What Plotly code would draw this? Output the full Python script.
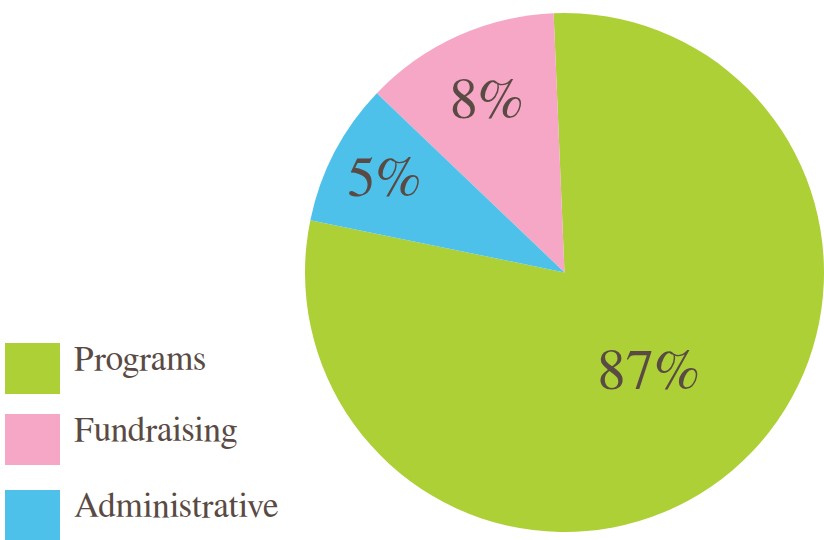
import plotly.graph_objects as go

labels = ["Programs", "Fundraising", "Administrative"]
values = [78.9, 12.2, 8.9]            # slice sizes as drawn
value_labels = ["87%", "8%", "5%"]    # printed labels
colors = ["#acd035", "#f5a7c5", "#4dc1ea"]

W, H = 824, 540
TEXT = "#5a4a44"
SERIF = "FreeSerif"

cx, cy, r = 564.5, 272.5, 259.5

fig = go.Figure(go.Pie(
    labels=labels,
    values=values,
    text=value_labels,
    texttemplate="%{text}",
    textinfo="text",
    textposition="inside",
    insidetextorientation="horizontal",
    textfont=dict(family=SERIF, size=57, color=TEXT),
    marker=dict(colors=colors, line=dict(width=0)),
    sort=False,
    direction="counterclockwise",
    rotation=-2.4,
    hole=0,
    showlegend=False,
    domain=dict(x=[(cx - r) / W, min(1.0, (cx + r) / W)],
                y=[1 - (cy + r) / H, 1 - (cy - r) / H]),
))

# custom legend (large swatches)
sw_x0, sw_x1 = 5, 60
sw_tops = [343, 414, 490]
sw_h = 51
shapes = []
annotations = []
for i, lab in enumerate(labels):
    y0 = sw_tops[i]
    shapes.append(dict(type="rect", xref="paper", yref="paper",
                       x0=sw_x0 / W, x1=sw_x1 / W,
                       y0=1 - (y0 + sw_h) / H, y1=1 - y0 / H,
                       fillcolor=colors[i], line=dict(width=0)))
    annotations.append(dict(xref="paper", yref="paper",
                            x=72 / W, y=1 - (y0 + sw_h / 2 - 9) / H,
                            xanchor="left", yanchor="middle",
                            text=lab, showarrow=False,
                            font=dict(family=SERIF, size=35, color=TEXT)))

fig.update_layout(
    width=W, height=H,
    margin=dict(l=0, r=0, t=0, b=0),
    paper_bgcolor="white",
    plot_bgcolor="white",
    shapes=shapes,
    annotations=annotations,
)

fig.write_html("out.html",
               post_script="document.body.style.margin='0px';document.body.style.overflow='hidden';",
               config={"displayModeBar": False})
